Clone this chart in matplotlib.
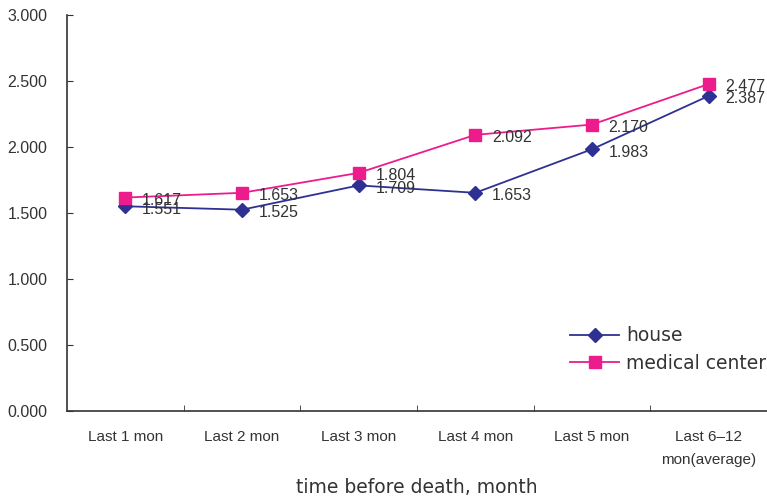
import matplotlib
matplotlib.use("Agg")
import matplotlib.pyplot as plt
from matplotlib.ticker import FixedLocator

categories = ["Last 1 mon", "Last 2 mon", "Last 3 mon", "Last 4 mon", "Last 5 mon", "Last 6\u201312\nmon(average)"]
house = [1.551, 1.525, 1.709, 1.653, 1.983, 2.387]
medical = [1.617, 1.653, 1.804, 2.092, 2.170, 2.477]
yticks = [0.0, 0.5, 1.0, 1.5, 2.0, 2.5, 3.0]

plt.rcParams['font.family'] = ['Liberation Sans', 'DejaVu Sans']
txt = '#333333'

fig = plt.figure(figsize=(7.67, 5.01), dpi=100)
ax = fig.add_axes([67/767, 90/501, 700/767, 396/501])

x = list(range(len(categories)))
ax.plot(x, house, color='#2E3192', lw=1.3, marker='D', ms=7, label='house', zorder=3)
ax.plot(x, medical, color='#EC1C8C', lw=1.3, marker='s', ms=8.5, label='medical center', zorder=3)

for xi, v in zip(x, house):
    ax.annotate(f"{v:.3f}", (xi, v), xytext=(12, -2), textcoords='offset points',
                ha='left', va='center', fontsize=11.5, color=txt)
for xi, v in zip(x, medical):
    ax.annotate(f"{v:.3f}", (xi, v), xytext=(12, -2), textcoords='offset points',
                ha='left', va='center', fontsize=11.5, color=txt)

ax.set_xlim(-0.5, len(categories) - 0.5)
ax.set_ylim(0, 3.0)
ax.set_yticks(yticks)
ax.set_yticklabels([f"{t:.3f}" for t in yticks], fontsize=11.5, color=txt)
ax.set_xticks(x)
ax.set_xticklabels(categories, fontsize=11, color=txt, linespacing=1.75)
ax.tick_params(axis='x', which='major', length=0, pad=14)
ax.xaxis.set_minor_locator(FixedLocator([i + 0.5 for i in range(len(categories) - 1)]))
ax.tick_params(axis='x', which='minor', direction='in', length=4, color='#333333')
ax.tick_params(axis='y', direction='in', length=4, color='#333333', pad=14)

for s in ['top', 'right']:
    ax.spines[s].set_visible(False)
for s in ['left', 'bottom']:
    ax.spines[s].set_color('#333333')
    ax.spines[s].set_linewidth(1.2)

ax.set_xlabel("time before death, month", fontsize=13.5, color=txt, labelpad=8,
              family=['DejaVu Sans'])

leg = ax.legend(loc='lower right', bbox_to_anchor=(1.01, 0.078), frameon=False,
                prop={'family': 'DejaVu Sans', 'size': 13.5},
                handlelength=2.6, handletextpad=0.4, labelspacing=0.45, borderaxespad=0.0)
for t in leg.get_texts():
    t.set_color(txt)

fig.savefig("out.png", dpi=100)
